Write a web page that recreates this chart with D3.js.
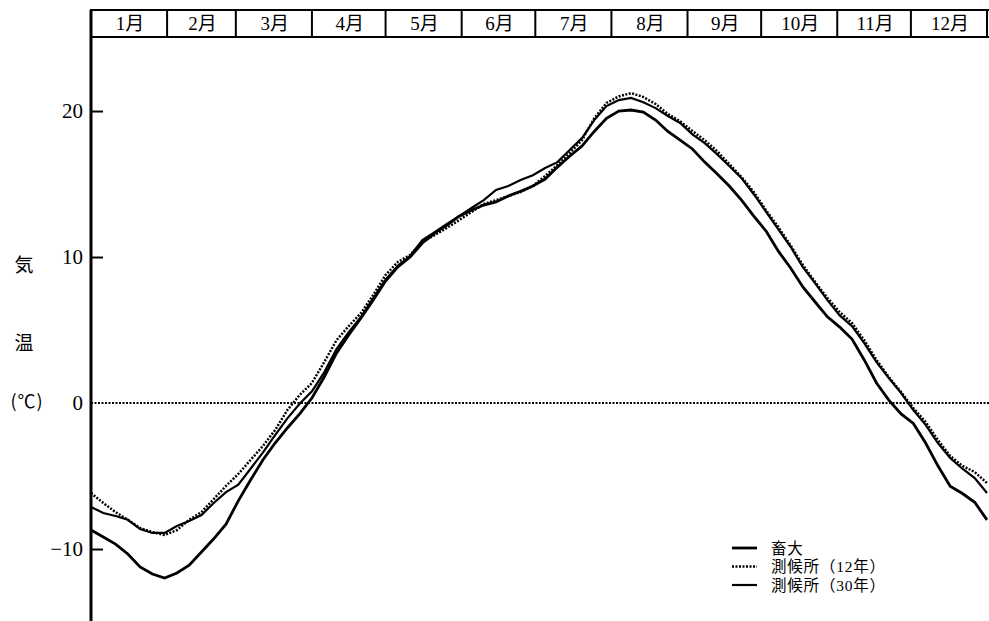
<!DOCTYPE html>
<html><head><meta charset="utf-8">
<script src="https://cdn.jsdelivr.net/npm/d3@7"></script>
<style>body{margin:0;background:#fff}svg{display:block}</style>
</head><body><svg id="c" width="989" height="621"></svg>
<script>
const monthLabels = ["1月","2月","3月","4月","5月","6月","7月","8月","9月","10月","11月","12月"];
const monthDays = [31,28,31,30,31,30,31,31,30,31,30,31];
const yTicks = [-10,0,10,20];
const seriesNames = ["畜大","測候所（12年）","測候所（30年）"];
const days = d3.range(0, 366, 5);
const chikudai = [-8.70,-9.18,-9.66,-10.34,-11.23,-11.71,-11.99,-11.64,-11.10,-10.20,-9.30,-8.30,-6.70,-5.27,-3.90,-2.74,-1.71,-0.75,0.34,1.78,3.42,4.66,5.82,7.05,8.36,9.32,10.00,10.96,11.64,12.19,12.80,13.20,13.56,13.77,14.18,14.50,14.86,15.34,16.16,16.90,17.60,18.60,19.50,20.00,20.07,19.93,19.38,18.60,18.00,17.40,16.50,15.70,14.86,13.90,12.80,11.78,10.40,9.25,7.95,6.92,5.90,5.20,4.38,2.95,1.37,0.20,-0.75,-1.40,-2.74,-4.30,-5.70,-6.20,-6.80,-8.00];
const obs12 = [-6.16,-6.85,-7.47,-8.00,-8.56,-8.84,-9.04,-8.70,-8.00,-7.47,-6.58,-5.68,-4.86,-3.90,-2.95,-1.85,-0.48,0.55,1.37,2.80,4.30,5.27,6.16,7.40,8.77,9.66,10.14,11.03,11.50,12.00,12.53,13.08,13.63,13.90,14.18,14.45,14.86,15.55,16.30,17.12,18.00,19.50,20.55,21.00,21.23,20.96,20.48,19.80,19.30,18.63,18.00,17.26,16.37,15.48,14.45,13.20,12.05,10.80,9.45,8.29,7.19,6.23,5.48,4.30,2.95,1.78,0.75,-0.34,-1.30,-2.53,-3.63,-4.30,-4.73,-5.48];
const obs30 = [-7.12,-7.53,-7.74,-8.00,-8.63,-8.90,-8.90,-8.42,-8.08,-7.67,-6.85,-6.10,-5.60,-4.50,-3.40,-2.20,-1.05,-0.05,0.80,2.10,3.70,4.85,5.90,7.18,8.45,9.40,10.07,11.16,11.70,12.26,12.80,13.36,13.90,14.60,14.86,15.27,15.60,16.10,16.50,17.33,18.15,19.38,20.34,20.75,20.90,20.60,20.20,19.66,19.18,18.40,17.80,17.05,16.23,15.40,14.30,13.10,11.90,10.70,9.30,8.20,7.05,6.00,5.27,4.10,2.80,1.71,0.68,-0.48,-1.50,-2.74,-3.77,-4.50,-5.14,-6.16];

const svg = d3.select("#c");
const x = d3.scaleLinear().domain([0,365]).range([91,987]);
const y = d3.scaleLinear().domain([-14.93,25.07]).range([621,37]);
const serif = "'Liberation Serif','Noto Sans CJK JP',serif";
const cjk = "'Noto Sans CJK JP','Liberation Serif',sans-serif";

// zero line (dotted)
svg.append("line").attr("x1",x(0)).attr("x2",989).attr("y1",y(0)).attr("y2",y(0))
  .attr("stroke","#000").attr("stroke-width",2).attr("stroke-dasharray","2,1.5");

// month bar
const cum = [0]; monthDays.forEach((d,i)=>cum.push(cum[i]+d));
const bar = svg.append("g");
bar.append("line").attr("x1",x(0)-1).attr("x2",989).attr("y1",10).attr("y2",10).attr("stroke","#000").attr("stroke-width",2);
bar.append("line").attr("x1",x(0)-1).attr("x2",989).attr("y1",37).attr("y2",37).attr("stroke","#000").attr("stroke-width",2);
cum.forEach(c=>{
  bar.append("line").attr("x1",x(c)).attr("x2",x(c)).attr("y1",10).attr("y2",37).attr("stroke","#000").attr("stroke-width",2);
});
monthLabels.forEach((m,i)=>{
  bar.append("text").attr("x",(x(cum[i])+x(cum[i+1]))/2+1).attr("y",30)
    .attr("text-anchor","middle").attr("font-family",serif).attr("font-size",19).text(m);
});

// y axis
const ax = svg.append("g").attr("transform",`translate(${x(0)},0)`)
  .call(d3.axisLeft(y).tickValues(yTicks).tickSize(-12).tickPadding(8)
    .tickFormat(d=> d<0 ? "−"+Math.abs(d) : d));
ax.select(".domain").remove();
ax.selectAll(".tick line").attr("stroke","#000").attr("stroke-width",2).filter(d=>d===0).remove();
ax.selectAll(".tick text").attr("font-family",serif).attr("font-size",21).attr("fill","#000");
svg.append("line").attr("x1",x(0)).attr("x2",x(0)).attr("y1",10).attr("y2",621).attr("stroke","#000").attr("stroke-width",3);

// y title
svg.append("text").attr("x",24).attr("y",272).attr("text-anchor","middle").attr("font-family",cjk).attr("font-size",19).text("気");
svg.append("text").attr("x",24).attr("y",350).attr("text-anchor","middle").attr("font-family",cjk).attr("font-size",19).text("温");
svg.append("text").attr("x",27).attr("y",408).attr("text-anchor","middle").attr("font-family",cjk).attr("font-size",18).attr("letter-spacing",1).text("(℃)");

// series
const line = d3.line().x((d,i)=>x(days[i])).y(d=>y(d));
svg.append("path").datum(obs30).attr("d",line).attr("fill","none").attr("stroke","#000").attr("stroke-width",2.2);
svg.append("path").datum(obs12).attr("d",line).attr("fill","none").attr("stroke","#000").attr("stroke-width",2.5).attr("stroke-dasharray","2,1.5");
svg.append("path").datum(chikudai).attr("d",line).attr("fill","none").attr("stroke","#000").attr("stroke-width",2.8);

// legend
const lg = svg.append("g");
const styles = [{w:2.8,dash:null},{w:2.5,dash:"2,1.5"},{w:2.2,dash:null}];
const legY = i => 548 + i*18.5;
seriesNames.forEach((n,i)=>{
  lg.append("line").attr("x1",732).attr("x2",757).attr("y1",legY(i)).attr("y2",legY(i))
    .attr("stroke","#000").attr("stroke-width",styles[i].w).attr("stroke-dasharray",styles[i].dash);
});
const lt = lg.append("text").attr("font-family",serif).attr("font-size",15.5).attr("letter-spacing",0.8);
seriesNames.forEach((n,i)=>{
  lt.append("tspan").attr("x",771).attr("y",legY(i)).attr("dy","0.36em").text(n);
});
</script></body></html>
